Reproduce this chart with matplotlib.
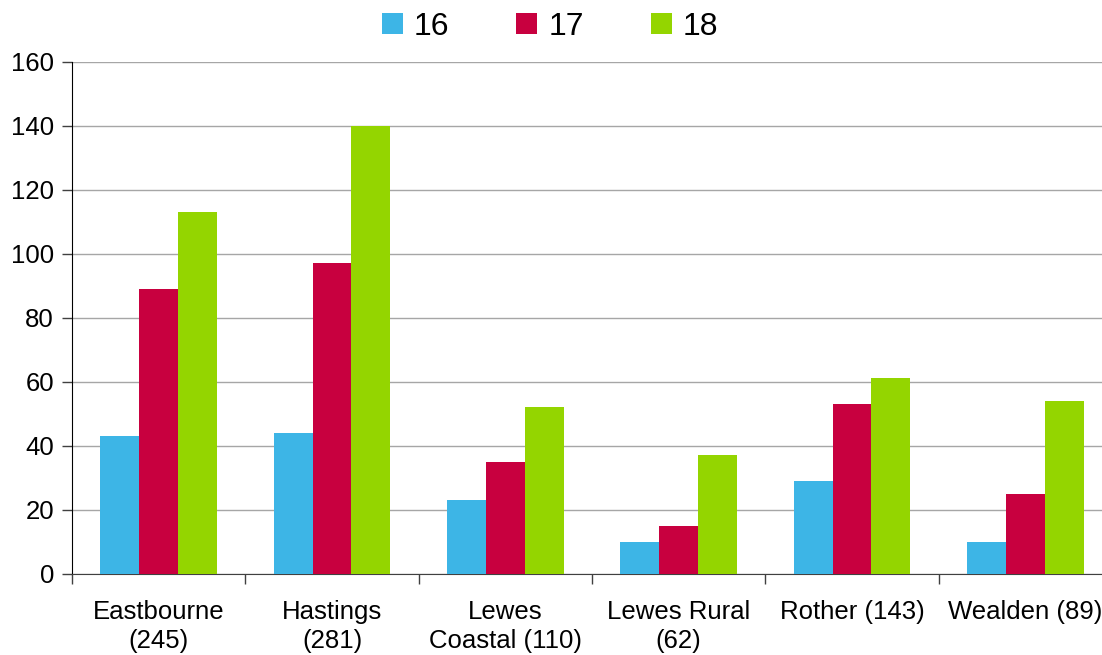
import numpy as np
import matplotlib.pyplot as plt

plt.rcParams['font.family'] = ['Liberation Sans', 'DejaVu Sans']

districts = ['Eastbourne\n(245)', 'Hastings\n(281)', 'Lewes\nCoastal (110)',
             'Lewes Rural\n(62)', 'Rother (143)', 'Wealden (89)']
ages = ['16', '17', '18']
age16 = [43, 44, 23, 10, 29, 10]
age17 = [89, 97, 35, 15, 53, 25]
age18 = [113, 140, 52, 37, 61, 54]
colours = ['#3DB5E6', '#C8003F', '#94D500']

fig = plt.figure(figsize=(11.02, 6.55), dpi=100)
# right edge runs a little past the canvas, as in the original export
ax = fig.add_axes([72 / 1102, 1 - 573.5 / 655, 1040 / 1102, 512 / 655])

x = np.arange(len(districts))
w = 0.224
for i, (vals, lab) in enumerate(zip([age16, age17, age18], ages)):
    ax.bar(x + (i - 1) * w, vals, width=w, color=colours[i], label=lab, zorder=3)

ax.set_xlim(-0.5, len(districts) - 0.5)
ax.set_ylim(0, 160)
ax.set_yticks(range(0, 161, 20))
ax.yaxis.grid(True, color='#A6A6A6', linewidth=1, zorder=0)

ax.set_xticks(np.arange(-0.5, len(districts), 1))
ax.set_xticklabels([])
ax.set_xticks(x, minor=True)
ax.set_xticklabels(districts, minor=True, fontsize=18.5, linespacing=1.28)
ax.tick_params(axis='x', which='minor', length=0, pad=19)
ax.tick_params(axis='x', which='major', length=7, width=1, color='#404040')
ax.tick_params(axis='y', length=7, width=1, labelsize=18.5, pad=6, color='#404040')

for s in ['top', 'right']:
    ax.spines[s].set_visible(False)
ax.spines['left'].set_color('black')
ax.spines['bottom'].set_color('#404040')

fig.legend(loc='upper center', bbox_to_anchor=(550 / 1102, 1.026), ncol=3,
           frameon=False, fontsize=23, handlelength=0.65, handleheight=0.65,
           handletextpad=0.35, columnspacing=2.1)

fig.savefig('out.png', dpi=100)
